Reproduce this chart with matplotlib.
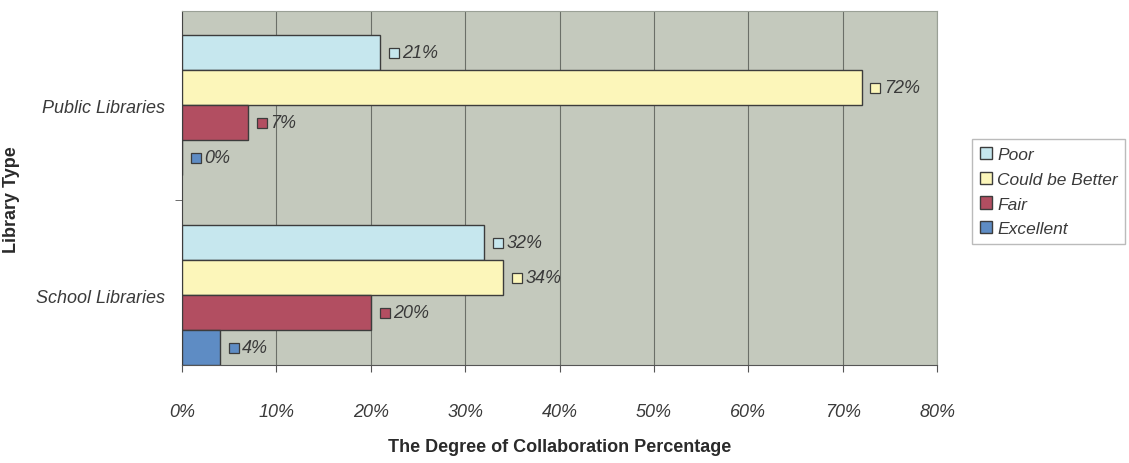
import numpy as np
import matplotlib.pyplot as plt
from matplotlib.transforms import offset_copy

plt.rcParams["font.family"] = ["Liberation Sans", "DejaVu Sans"]

# --- Data ---
library_types = ["Public Libraries", "School Libraries"]
ratings = ["Poor", "Could be Better", "Fair", "Excellent"]
poor = [21, 32]
could_be_better = [72, 34]
fair = [7, 20]
excellent = [0, 4]
x_ticks = [0, 10, 20, 30, 40, 50, 60, 70, 80]

series = [poor, could_be_better, fair, excellent]
colors = ["#c6e7ee", "#fcf6ba", "#b24e61", "#5e8cc4"]

fig = plt.figure(figsize=(11.29, 4.64), dpi=100)
ax = fig.add_axes([0.1612, 0.211, 0.6688, 0.763])
ax.set_facecolor("#c4c9bd")

h = 0.184
y_base = np.arange(len(library_types))
text_col = "#3a3a3a"
fs = 13

for i, (vals, col, name) in enumerate(zip(series, colors, ratings)):
    y = y_base + (i - 1.5) * h
    ax.barh(y, vals, height=h, color=col, edgecolor="#3c3c3c", linewidth=1.0,
            label=name, zorder=3)
    mk_tr = offset_copy(ax.transData, fig=fig, x=10, y=0, units="points")
    tx_tr = offset_copy(ax.transData, fig=fig, x=16, y=0, units="points")
    for v, yy in zip(vals, y):
        ax.plot(v, yy, marker="s", markersize=7.5, color=col,
                markeredgecolor="#3c3c3c", markeredgewidth=0.9,
                transform=mk_tr, zorder=4, clip_on=False)
        ax.text(v, yy, f"{v}%", transform=tx_tr, va="center", ha="left",
                fontsize=fs, style="italic", color=text_col, zorder=4)

ax.set_xlim(0, 80)
ax.set_ylim(1.368, -0.495)
ax.set_xticks(x_ticks)
ax.set_xticklabels([f"{t}%" for t in x_ticks], style="italic", fontsize=fs,
                   color=text_col)
ax.tick_params(axis="x", length=5, pad=22, color="#555555")
ax.set_yticks(y_base)
ax.set_yticklabels(library_types, style="italic", fontsize=fs, color=text_col)
ax.set_yticks([0.5], minor=True)
ax.tick_params(axis="y", which="major", length=0, pad=12)
ax.tick_params(axis="y", which="minor", length=5, color="#555555")

ax.grid(True, axis="x", color="#6b6f68", linewidth=0.8, zorder=1)
ax.set_axisbelow(True)
for s in ["top", "right"]:
    ax.spines[s].set_color("#9aa096")
ax.spines["left"].set_color("#444444")
ax.spines["bottom"].set_color("#555555")

ax.set_xlabel("The Degree of Collaboration Percentage", fontsize=13,
              fontweight="bold", color="#2a2a2a", labelpad=13)
ax.set_ylabel("Library Type", fontsize=13, fontweight="bold", color="#2a2a2a")
ax.yaxis.set_label_coords(-0.215, 0.47)

leg = ax.legend(loc="upper left", bbox_to_anchor=(1.046, 0.638), frameon=True,
                fancybox=False, edgecolor="#aaaaaa",
                prop={"style": "italic", "size": 12.5},
                handlelength=0.7, handleheight=0.7, handletextpad=0.3,
                labelspacing=0.55, borderpad=0.45, borderaxespad=0)
for t in leg.get_texts():
    t.set_color(text_col)

fig.savefig("out.png", dpi=100)
